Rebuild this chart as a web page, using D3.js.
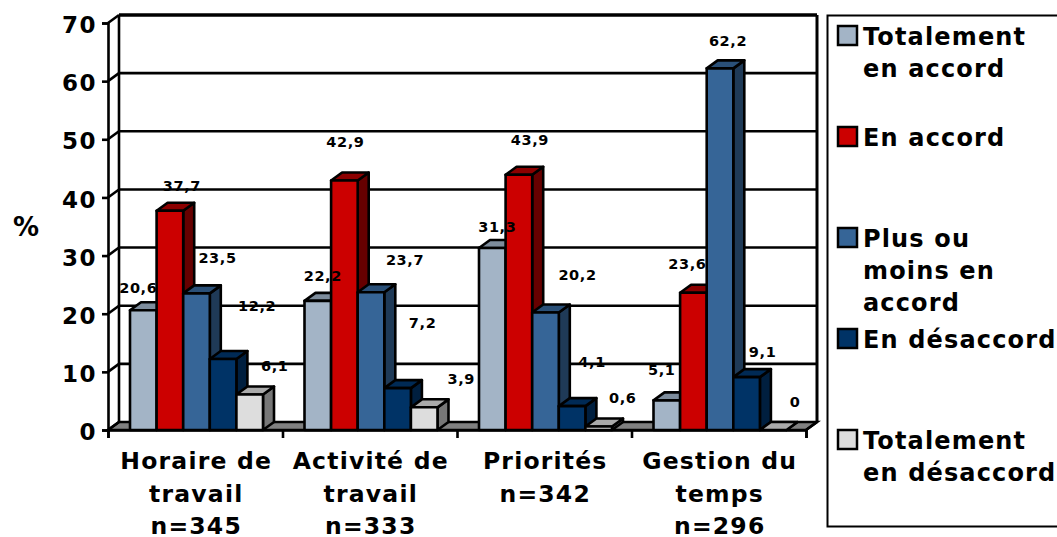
<!DOCTYPE html>
<html>
<head>
<meta charset="utf-8">
<script src="https://cdn.jsdelivr.net/npm/d3@7"></script>
<style>
  html, body { margin: 0; padding: 0; background: #fff; }
  text { font-family: "DejaVu Sans", sans-serif; font-weight: bold; fill: #000; }
</style>
</head>
<body>
<div id="chart"></div>
<script>
var categories = [
    ["Horaire de", "travail", "n=345"],
    ["Activité de", "travail", "n=333"],
    ["Priorités", "n=342"],
    ["Gestion du", "temps", "n=296"]
];
var seriesNames = ["Totalement en accord", "En accord", "Plus ou moins en accord", "En désaccord", "Totalement en désaccord"];
var totalementEnAccord = [20.6, 22.2, 31.3, 5.1];
var enAccord = [37.7, 42.9, 43.9, 23.6];
var plusOuMoins = [23.5, 23.7, 20.2, 62.2];
var enDesaccord = [12.2, 7.2, 4.1, 9.1];
var totalementEnDesaccord = [6.1, 3.9, 0.6, 0];
var yTicks = [0, 10, 20, 30, 40, 50, 60, 70];

var allSeries = [totalementEnAccord, enAccord, plusOuMoins, enDesaccord, totalementEnDesaccord];

// front, side and top colour of each series
var fronts = ["#a3b4c6", "#cc0000", "#366597", "#003366", "#dddddd"];
var sides = ["#6f7f8f", "#660000", "#1f3a57", "#001f3f", "#777777"];
var tops = ["#7d8c9c", "#8c0000", "#2a5078", "#002a55", "#aaaaaa"];

// where the labels sit compared with the top of their bar, one row per category
var labelShift = [
    [[-5, -23], [12, -25], [21, -36], [34, -54], [25, -29]],
    [[5, -25], [1, -39], [34, -33], [25, -66], [37, -29]],
    [[5, -22], [11, -35], [32, -38], [20, -45], [24, -29]],
    [[-5, -31], [-6, -29], [8, -28], [16, -26], [22, -29]]
];

var w = 1057;
var h = 537;
var depthX = 11;
var depthY = -8;
var lineW = 2.6;

var svg = d3.select("#chart")
            .append("svg")
            .attr("width", w)
            .attr("height", h)
            .style("display", "block");

var y = d3.scaleLinear().domain([0, 70]).range([430, 23]);
var x0 = d3.scaleBand().domain(d3.range(categories.length)).range([108, 806]);
var x1 = d3.scaleBand().domain(d3.range(allSeries.length)).range([22, 155]);

function poly(points) {
    return "M" + points.map(function(p) { return p.join(","); }).join("L") + "Z";
}

var left = x0.range()[0];
var right = x0.range()[1];

// floor
svg.append("path")
    .attr("d", poly([[left, y(0)], [right, y(0)], [right + depthX, y(0) + depthY], [left + depthX, y(0) + depthY]]))
    .attr("fill", "#808080")
    .attr("stroke", "#000")
    .attr("stroke-width", lineW);

// back wall gridlines and the slanted bits on the side wall
yTicks.forEach(function(t) {
    if (t > 0) {
        svg.append("line")
            .attr("x1", left + depthX).attr("x2", right + depthX)
            .attr("y1", y(t) + depthY).attr("y2", y(t) + depthY)
            .attr("stroke", "#000")
            .attr("stroke-width", t == 70 ? 3.5 : lineW);
    }
    svg.append("line")
        .attr("x1", left).attr("x2", left + depthX)
        .attr("y1", y(t)).attr("y2", y(t) + depthY)
        .attr("stroke", "#000")
        .attr("stroke-width", lineW);
});

svg.append("line")
    .attr("x1", left + depthX).attr("x2", left + depthX)
    .attr("y1", y(70) + depthY).attr("y2", y(0) + depthY)
    .attr("stroke", "#000").attr("stroke-width", lineW);
svg.append("line")
    .attr("x1", right + depthX).attr("x2", right + depthX)
    .attr("y1", y(70) + depthY).attr("y2", y(0) + depthY)
    .attr("stroke", "#000").attr("stroke-width", 3);
svg.append("line")
    .attr("x1", right).attr("x2", right + depthX)
    .attr("y1", y(0)).attr("y2", y(0) + depthY)
    .attr("stroke", "#000").attr("stroke-width", lineW);

// bars
categories.forEach(function(cat, g) {
    allSeries.forEach(function(values, i) {
        var v = values[g];
        var xa = x0(g) + x1(i);
        var xb = xa + x1.bandwidth();
        var yt = y(v);
        var yb = y(0);
        var bar = svg.append("g").attr("stroke", "#000").attr("stroke-width", lineW).attr("stroke-linejoin", "round");
        bar.append("path")
            .attr("d", poly([[xb, yb], [xb + depthX, yb + depthY], [xb + depthX, yt + depthY], [xb, yt]]))
            .attr("fill", sides[i]);
        bar.append("path")
            .attr("d", poly([[xa, yt], [xb, yt], [xb + depthX, yt + depthY], [xa + depthX, yt + depthY]]))
            .attr("fill", tops[i]);
        bar.append("rect")
            .attr("x", xa)
            .attr("y", yt)
            .attr("width", xb - xa)
            .attr("height", yb - yt)
            .attr("fill", fronts[i]);
    });
});

// value labels go on last, some of them sit over the bars
categories.forEach(function(cat, g) {
    allSeries.forEach(function(values, i) {
        var v = values[g];
        svg.append("text")
            .attr("x", x0(g) + x1(i) + x1.bandwidth() / 2 + labelShift[g][i][0])
            .attr("y", y(v) + labelShift[g][i][1] + 5.5)
            .attr("text-anchor", "middle")
            .style("font-size", "14.5px")
            .style("letter-spacing", "0.6px")
            .text(String(v).replace(".", ","));
    });
});

// y axis
var yAxis = svg.append("g")
    .attr("transform", "translate(" + left + ",0)")
    .call(d3.axisLeft(y).tickValues(yTicks).tickSize(6).tickPadding(5));
yAxis.select(".domain").attr("stroke-width", lineW);
yAxis.selectAll(".tick line").attr("stroke-width", lineW);
yAxis.selectAll("text")
    .attr("dy", "0.42em")
    .style("font-size", "23px")
    .style("letter-spacing", "1.5px")
    .style("font-family", "'DejaVu Sans', sans-serif");

// x axis, ticks on the band edges so a linear scale does it
var xEdges = d3.scaleLinear().domain([0, categories.length]).range([left, right]);
var xAxis = svg.append("g")
    .attr("transform", "translate(0," + y(0) + ")")
    .call(d3.axisBottom(xEdges).tickValues(d3.range(categories.length + 1)).tickSize(8).tickFormat(""));
xAxis.select(".domain").attr("stroke-width", lineW);
xAxis.selectAll(".tick line").attr("stroke-width", lineW);

// category labels
categories.forEach(function(lines, g) {
    lines.forEach(function(line, k) {
        svg.append("text")
            .attr("x", x0(g) + x0.bandwidth() / 2 + 1)
            .attr("y", 469 + k * 32.5)
            .attr("text-anchor", "middle")
            .style("font-size", "23.5px")
            .style("letter-spacing", "1.2px")
            .text(line);
    });
});

svg.append("text")
    .attr("x", 26)
    .attr("y", 236)
    .attr("text-anchor", "middle")
    .style("font-size", "26px")
    .text("%");

// legend
svg.append("rect")
    .attr("x", 827.5).attr("y", 15.5)
    .attr("width", 240).attr("height", 511)
    .attr("fill", "#fff")
    .attr("stroke", "#000")
    .attr("stroke-width", 2);

var legendLines = [
    ["Totalement", "en accord"],
    ["En accord"],
    ["Plus ou", "moins en", "accord"],
    ["En désaccord"],
    ["Totalement", "en désaccord"]
];
var legendY = d3.scalePoint().domain(d3.range(seriesNames.length)).range([26, 430]);

seriesNames.forEach(function(name, i) {
    svg.append("rect")
        .attr("x", 838)
        .attr("y", legendY(i))
        .attr("width", 19)
        .attr("height", 19)
        .attr("fill", fronts[i])
        .attr("stroke", "#000")
        .attr("stroke-width", 2.5);
    legendLines[i].forEach(function(line, k) {
        svg.append("text")
            .attr("x", 863)
            .attr("y", legendY(i) + 18.5 + k * 32)
            .style("font-size", "24px")
            .style("letter-spacing", "1.15px")
            .text(line);
    });
});
</script>
</body>
</html>
